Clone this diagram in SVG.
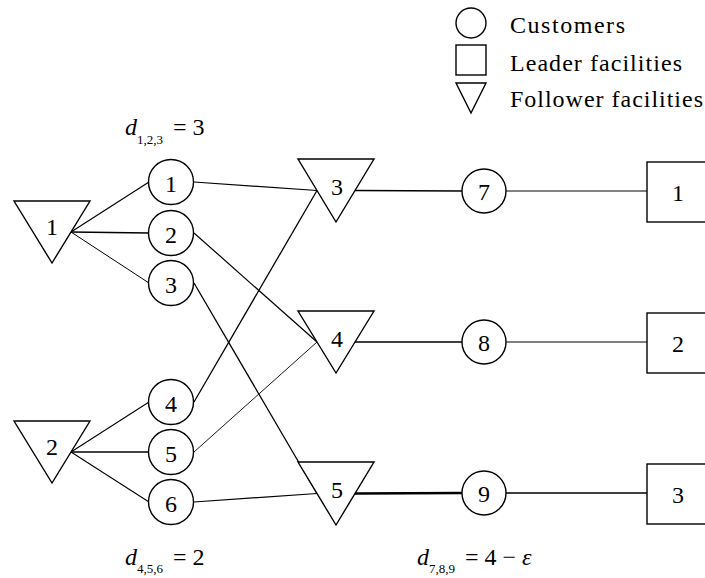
<svg xmlns="http://www.w3.org/2000/svg" width="705" height="578" viewBox="0 0 705 578" font-family="'Liberation Serif', 'DejaVu Serif', serif">
<style>
.n{fill:#fff;stroke:#000;stroke-width:1.4}
text{font-family:'Liberation Serif','DejaVu Serif',serif}
.t{font-size:24px;fill:#000;text-anchor:middle}
.lg{font-size:24px;fill:#000}
.m{font-size:24px;fill:#000}
.mi{font-style:italic}
.sub{font-size:13px}
.e{stroke:#000;fill:none}
</style>
<rect width="705" height="578" fill="#fff"/>
<g id="connectors">
<line class="e" x1="71" y1="232" x2="149" y2="182" stroke-width="1.2"/>
<line class="e" x1="71" y1="232" x2="149" y2="233" stroke-width="1.7"/>
<line class="e" x1="71" y1="232" x2="149" y2="283" stroke-width="1"/>
<line class="e" x1="71" y1="452" x2="149" y2="402" stroke-width="1.1"/>
<line class="e" x1="71" y1="452" x2="149" y2="452" stroke-width="1.7"/>
<line class="e" x1="71" y1="452" x2="149" y2="502" stroke-width="1.1"/>
<line class="e" x1="194" y1="182" x2="317" y2="190.5" stroke-width="1.2"/>
<line class="e" x1="194" y1="233" x2="317" y2="342" stroke-width="1.2"/>
<line class="e" x1="194" y1="283" x2="317" y2="493.5" stroke-width="1.3"/>
<line class="e" x1="194" y1="402" x2="317" y2="190.5" stroke-width="1.3"/>
<line class="e" x1="194" y1="452" x2="317" y2="342" stroke-width="0.9"/>
<line class="e" x1="194" y1="502" x2="317" y2="493.5" stroke-width="1.2"/>
<line class="e" x1="355" y1="190.5" x2="462" y2="191" stroke-width="1.7"/>
<line class="e" x1="355" y1="342" x2="462" y2="342" stroke-width="1.7"/>
<line class="e" x1="355" y1="493.5" x2="462" y2="493" stroke-width="2.3"/>
<line class="e" x1="506" y1="191" x2="647" y2="191" stroke-width="1"/>
<line class="e" x1="506" y1="342" x2="647" y2="342" stroke-width="1"/>
<line class="e" x1="506" y1="493" x2="647" y2="493" stroke-width="1.3"/>
</g>
<g id="legend">
<circle class="n" cx="471" cy="23" r="15"/>
<rect class="n" x="456" y="45" width="30" height="30"/>
<polygon class="n" points="456,83 486,83 471,113"/>
<text class="lg" x="510" y="33" textLength="115" lengthAdjust="spacing">Customers</text>
<text class="lg" x="510" y="71" textLength="172" lengthAdjust="spacing">Leader facilities</text>
<text class="lg" x="510" y="107" textLength="193" lengthAdjust="spacing">Follower facilities</text>
</g>
<g id="F1"><polygon class="n" points="14,201 90,201 52,263"/><text class="t" x="52" y="235">1</text></g>
<g id="F2"><polygon class="n" points="14,421 90,421 52,483"/><text class="t" x="52" y="455">2</text></g>
<g id="F3"><polygon class="n" points="298,159 374,159 336,222"/><text class="t" x="337" y="195">3</text></g>
<g id="F4"><polygon class="n" points="298,311 374,311 336,373"/><text class="t" x="337" y="347">4</text></g>
<g id="F5"><polygon class="n" points="298,462 374,462 336,525"/><text class="t" x="337" y="498">5</text></g>
<g id="C1"><circle class="n" cx="171" cy="182" r="22.5"/><text class="t" x="171" y="192">1</text></g>
<g id="C2"><circle class="n" cx="171" cy="233" r="22.5"/><text class="t" x="171" y="243">2</text></g>
<g id="C3"><circle class="n" cx="171" cy="283" r="22.5"/><text class="t" x="171" y="293">3</text></g>
<g id="C4"><circle class="n" cx="171" cy="402" r="22.5"/><text class="t" x="171" y="412">4</text></g>
<g id="C5"><circle class="n" cx="171" cy="452" r="22.5"/><text class="t" x="171" y="462">5</text></g>
<g id="C6"><circle class="n" cx="171" cy="502" r="22.5"/><text class="t" x="171" y="512">6</text></g>
<g id="C7"><circle class="n" cx="484" cy="191" r="22"/><text class="t" x="484" y="200">7</text></g>
<g id="C8"><circle class="n" cx="484" cy="342" r="22"/><text class="t" x="484" y="351">8</text></g>
<g id="C9"><circle class="n" cx="484" cy="493" r="22"/><text class="t" x="484" y="502">9</text></g>
<g id="L1"><rect class="n" x="647" y="162" width="60" height="60"/><text class="t" x="678" y="201">1</text></g>
<g id="L2"><rect class="n" x="647" y="313" width="60" height="60"/><text class="t" x="678" y="352">2</text></g>
<g id="L3"><rect class="n" x="647" y="464" width="60" height="60"/><text class="t" x="678" y="503">3</text></g>
<g id="labels">
<text class="m" x="125" y="135"><tspan class="mi">d</tspan><tspan class="sub" dy="9">1,2,3</tspan><tspan dx="10" dy="-9">= 3</tspan></text>
<text class="m" x="125" y="565"><tspan class="mi">d</tspan><tspan class="sub" dy="8">4,5,6</tspan><tspan dx="10" dy="-8">= 2</tspan></text>
<text class="m" x="417" y="565"><tspan class="mi">d</tspan><tspan class="sub" dy="8">7,8,9</tspan><tspan dx="10" dy="-8">= 4 − </tspan><tspan class="mi">ε</tspan></text>
</g>
</svg>
